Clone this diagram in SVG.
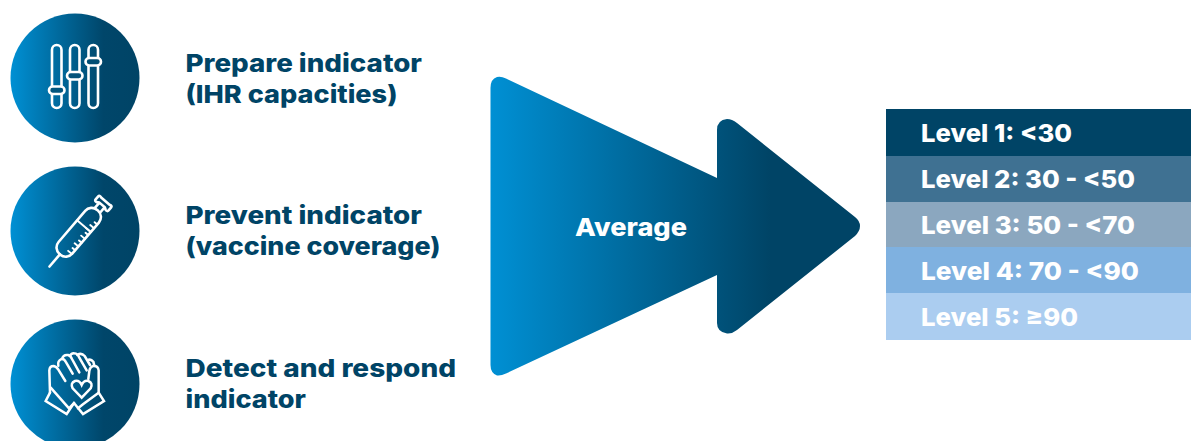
<svg xmlns="http://www.w3.org/2000/svg" width="1191" height="441" viewBox="0 0 1191 441">
<style>
text{font-family:"Inter","Liberation Sans",sans-serif;font-weight:800;font-size:24.5px}
.t{fill:#004466}
.w{fill:#fff}
.ic{fill:none;stroke:#fff;stroke-width:2.6;stroke-linecap:round;stroke-linejoin:round}
.ic3{fill:none;stroke:#fff;stroke-width:7.5;stroke-linecap:round;stroke-linejoin:miter}
</style>
<defs>
<linearGradient id="gc" x1="0" x2="1" y1="0" y2="0"><stop offset="0" stop-color="#0090d4"/><stop offset=".72" stop-color="#00466a"/><stop offset="1" stop-color="#004466"/></linearGradient>
<linearGradient id="ga" gradientUnits="userSpaceOnUse" x1="490" x2="770" y1="0" y2="0"><stop offset="0" stop-color="#0090d4"/><stop offset="1" stop-color="#004466"/></linearGradient>
</defs>
<rect width="1191" height="441" fill="#fff"/>
<g id="node-prepare">
<circle cx="75" cy="78" r="64.5" fill="url(#gc)"/>
<g class="ic">
<rect x="52" y="45" width="9.5" height="63" rx="4.7"/><rect x="70" y="45" width="9.5" height="63" rx="4.7"/><rect x="88.5" y="45" width="9.5" height="63" rx="4.7"/>
<rect x="49" y="86.5" width="15.5" height="7.5" rx="3.7" fill="#04577f"/><rect x="67" y="72" width="15.5" height="7.5" rx="3.7" fill="#04527a"/><rect x="85.5" y="58" width="15.5" height="7.5" rx="3.7" fill="#004e74"/>
</g>
<text class="t" x="185.5" y="72" textLength="236.5" lengthAdjust="spacingAndGlyphs">Prepare indicator</text>
<text class="t" x="185.5" y="103" textLength="212" lengthAdjust="spacingAndGlyphs">(IHR capacities)</text>
</g>
<g id="node-prevent">
<circle cx="75" cy="231" r="64.5" fill="url(#gc)"/>
<g class="ic" transform="translate(49.5,266.5) rotate(-49.5)">
<path d="M0,0H16"/>
<rect x="16" y="-9" width="58" height="18" rx="8.5"/>
<path d="M53,-9V9" stroke-width="2"/>
<path d="M74,-3.5H81M74,3.5H81M81,-8.5Q79,-8.5 79.5,-6L81,-3.5V3.5L79.5,6Q79,8.5 81,8.5H85Q87,8.5 86,5.5V-5.5Q87,-8.5 85,-8.5Z"/>
<path d="M24,9V4M29,9V5.5M34,9V4M39,9V5.5M44,9V4M49,9V5.5M53,9V3M58,9V4M63,9V5.5" stroke-width="1.9"/>
</g>
<text class="t" x="185.5" y="224" textLength="236.5" lengthAdjust="spacingAndGlyphs">Prevent indicator</text>
<text class="t" x="185.5" y="255" textLength="255" lengthAdjust="spacingAndGlyphs">(vaccine coverage)</text>
</g>
<g id="node-detect">
<circle cx="75" cy="384" r="64.5" fill="url(#gc)"/>
<g class="ic3" transform="translate(40,345) scale(.3333)">
<path d="M30,143L17,168L80,207L102,174L129,207L192,168L176,143L176,76Q174,62 160,63Q150,65 148,78L145,102"/>
<path d="M30,143L28,76Q29,63 41,63Q49,64 55,74L76,108"/>
<path d="M32,128L87,190L102,174M176,143L129,178L114,190"/>
<path d="M55,62Q52,48 64,42Q72,40 77,50L98,86"/>
<path d="M66,42Q70,28 84,30Q92,32 96,42L118,82"/>
<path d="M90,33Q94,22 108,26Q114,28 118,38L140,76"/>
<path d="M112,30Q124,22 134,33L150,60M142,46Q152,40 160,50L163,62"/>
<path d="M125,158L98,130Q90,114 105,108Q118,105 125,120Q132,105 145,108Q160,114 152,130Z"/>
</g>
<text class="t" x="185.5" y="376.5" textLength="270.5" lengthAdjust="spacingAndGlyphs">Detect and respond</text>
<text class="t" x="185.5" y="408" textLength="120.5" lengthAdjust="spacingAndGlyphs">indicator</text>
</g>
<g id="node-average">
<path d="M490.5,88Q490.5,79 497,77Q501,76 506,78.5L717,178V130Q717,120 727,119Q732,119 737,123L855,217Q860,221 860,226Q860,231 855,236L737,330Q732,334 727,333.5Q717,332 717,323V275L506,373.5Q501,376 497,375.5Q490.5,373 490.5,365Z" fill="url(#ga)"/>
<text class="w" x="575" y="235.5" textLength="112" lengthAdjust="spacingAndGlyphs">Average</text>
</g>
<g id="node-levels">
<rect x="886" y="109" width="305" height="47" fill="#004466"/>
<rect x="886" y="156" width="305" height="46" fill="#3f7192"/>
<rect x="886" y="202" width="305" height="45" fill="#8ba7bf"/>
<rect x="886" y="247" width="305" height="46" fill="#7fb1e0"/>
<rect x="886" y="293" width="305" height="47" fill="#abcdf0"/>
<text class="w" x="921" y="142" textLength="151" lengthAdjust="spacingAndGlyphs">Level 1: &lt;30</text>
<text class="w" x="921" y="187.5" textLength="214" lengthAdjust="spacingAndGlyphs">Level 2: 30 - &lt;50</text>
<text class="w" x="921" y="233.5" textLength="214" lengthAdjust="spacingAndGlyphs">Level 3: 50 - &lt;70</text>
<text class="w" x="921" y="279.5" textLength="218" lengthAdjust="spacingAndGlyphs">Level 4: 70 - &lt;90</text>
<text class="w" x="921" y="325.5" textLength="157" lengthAdjust="spacingAndGlyphs">Level 5: ≥90</text>
</g>
<g id="connectors"/>
</svg>
